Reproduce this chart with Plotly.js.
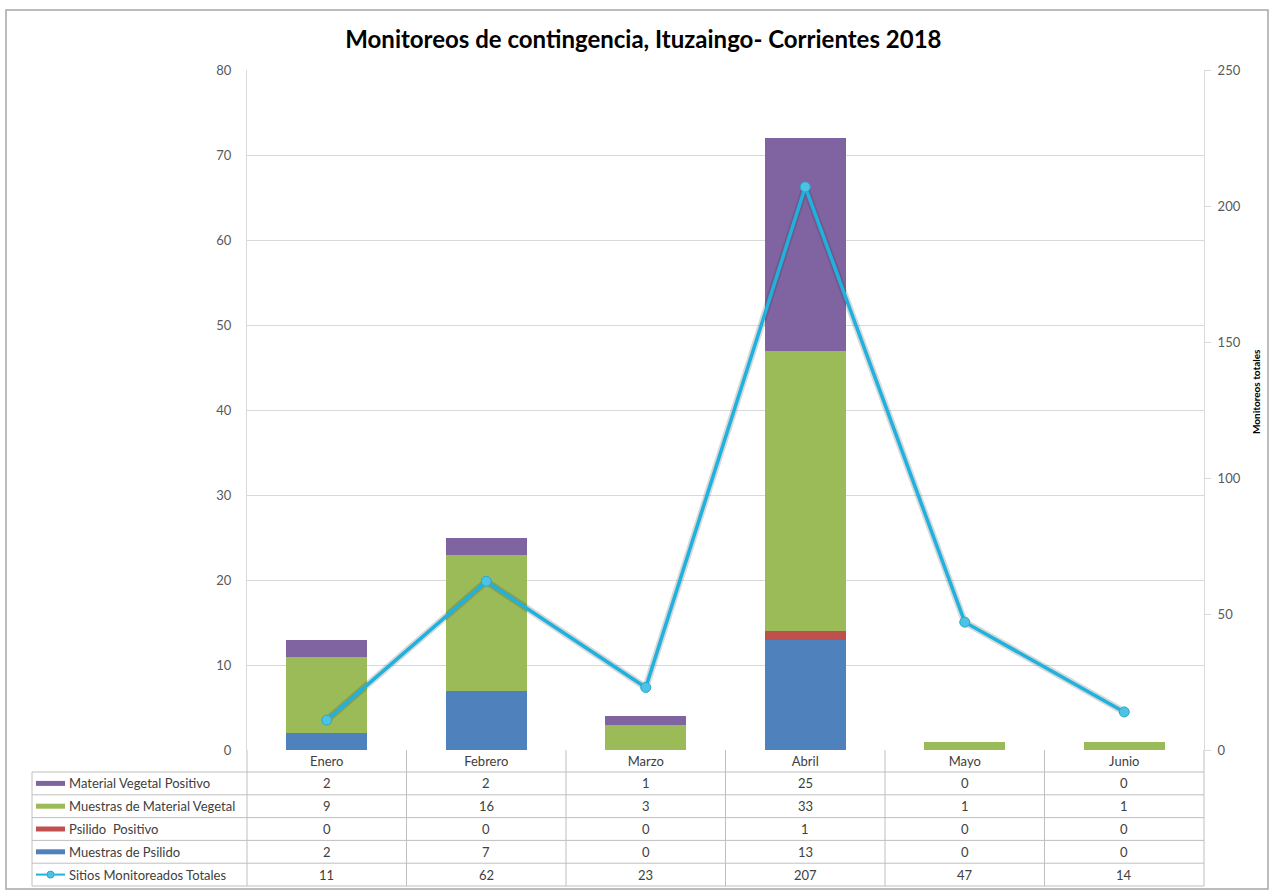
<!DOCTYPE html>
<html>
<head>
<meta charset="utf-8">
<script src="https://cdn.plot.ly/plotly-3.0.1.min.js"></script>
<style>html,body{margin:0;padding:0;background:#fff;}#chart{width:1269px;height:890px;}</style>
</head>
<body>
<div id="chart"></div>
<script>
// ---- data ----
const months = ["Enero", "Febrero", "Marzo", "Abril", "Mayo", "Junio"];
const materialVegetalPositivo = [2, 2, 1, 25, 0, 0];
const muestrasMaterialVegetal = [9, 16, 3, 33, 1, 1];
const psilidoPositivo = [0, 0, 0, 1, 0, 0];
const muestrasPsilido = [2, 7, 0, 13, 0, 0];
const sitiosMonitoreados = [11, 62, 23, 207, 47, 14];
const leftTicks = [0, 10, 20, 30, 40, 50, 60, 70, 80];
const rightTicks = [0, 50, 100, 150, 200, 250];

// ---- layout geometry (pixels) ----
const W = 1269, H = 890;
const PL = 247, PR = 1204, PT = 70, PB = 750;
const pw = PR - PL, ph = PB - PT;
const px = x => (x - PL) / pw;
const py = y => (PB - y) / ph;

const C = {
  purple: "#8064A2", green: "#9BBB59", red: "#C0504D", blue: "#4F81BD",
  line: "#1FB2DF", marker: "#4CC3E3", grid: "#D9D9D9", text: "#404040"
};
const FONT = "Lato, 'Open Sans', sans-serif";

const traces = [
  {type: "bar", name: "Muestras de Psilido", x: months, y: muestrasPsilido, marker: {color: C.blue}},
  {type: "bar", name: "Psilido  Positivo", x: months, y: psilidoPositivo, marker: {color: C.red}},
  {type: "bar", name: "Muestras de Material Vegetal", x: months, y: muestrasMaterialVegetal, marker: {color: C.green}},
  {type: "bar", name: "Material Vegetal Positivo", x: months, y: materialVegetalPositivo, marker: {color: C.purple}},
  {type: "scatter", mode: "lines", name: "shadow", x: months, y: sitiosMonitoreados, yaxis: "y2",
   line: {color: "rgba(40,40,40,0.18)", width: 7}, hoverinfo: "skip"},
  {type: "scatter", mode: "lines+markers", name: "Sitios Monitoreados Totales", x: months, y: sitiosMonitoreados,
   yaxis: "y2", line: {color: C.line, width: 3.5}, marker: {color: C.marker, size: 10, line: {color: "#2AA6CC", width: 1}}}
];

// ---- table (rows in display order) ----
const rows = [
  {label: "Material Vegetal Positivo", values: materialVegetalPositivo, color: C.purple, kind: "bar"},
  {label: "Muestras de Material Vegetal", values: muestrasMaterialVegetal, color: C.green, kind: "bar"},
  {label: "Psilido  Positivo", values: psilidoPositivo, color: C.red, kind: "bar"},
  {label: "Muestras de Psilido", values: muestrasPsilido, color: C.blue, kind: "bar"},
  {label: "Sitios Monitoreados Totales", values: sitiosMonitoreados, color: C.line, kind: "line"}
];
const rowTop = 772, rowH = 22.8, tableLeft = 32, headerTop = 750;
const tableBottom = rowTop + rows.length * rowH;

const shapes = [];
const annotations = [];
const lineStyle = {color: "#BFBFBF", width: 1};

// outer frame
shapes.push({type: "rect", xref: "paper", yref: "paper", x0: px(6), x1: px(1268), y0: py(10), y1: py(889),
  line: {color: "#A6A6A6", width: 1.5}, fillcolor: "rgba(0,0,0,0)", layer: "below"});

// horizontal lines of the table
for (let i = 0; i <= rows.length; i++) {
  const y = rowTop + i * rowH;
  shapes.push({type: "line", xref: "paper", yref: "paper", x0: px(tableLeft), x1: px(PR), y0: py(y), y1: py(y), line: lineStyle});
}
// vertical lines
shapes.push({type: "line", xref: "paper", yref: "paper", x0: px(tableLeft), x1: px(tableLeft), y0: py(rowTop), y1: py(tableBottom), line: lineStyle});
for (let i = 0; i <= months.length; i++) {
  const x = PL + i * pw / months.length;
  shapes.push({type: "line", xref: "paper", yref: "paper", x0: px(x), x1: px(x), y0: py(headerTop), y1: py(tableBottom), line: lineStyle});
}

rows.forEach((r, i) => {
  const yc = rowTop + i * rowH + rowH / 2;
  if (r.kind === "bar") {
    shapes.push({type: "rect", xref: "paper", yref: "paper", x0: px(36), x1: px(65), y0: py(yc - 2.5), y1: py(yc + 2.5),
      fillcolor: r.color, line: {width: 0}});
  } else {
    shapes.push({type: "line", xref: "paper", yref: "paper", x0: px(36), x1: px(65), y0: py(yc), y1: py(yc),
      line: {color: r.color, width: 2}});
    shapes.push({type: "circle", xref: "paper", yref: "paper", x0: px(47), x1: px(54), y0: py(yc - 3.5), y1: py(yc + 3.5),
      fillcolor: C.marker, line: {color: "#2AA6CC", width: 1}});
  }
  annotations.push({xref: "paper", yref: "paper", x: px(67), y: py(yc), xanchor: "left", yanchor: "middle",
    text: r.label, showarrow: false, font: {family: FONT, size: 13, color: C.text}});
  r.values.forEach((v, j) => {
    annotations.push({xref: "x", yref: "paper", x: months[j], y: py(yc), xanchor: "center", yanchor: "middle",
      text: String(v), showarrow: false, font: {family: FONT, size: 13, color: C.text}});
  });
});

// right axis title
annotations.push({xref: "paper", yref: "paper", x: px(1256), y: py(392), xanchor: "center", yanchor: "middle",
  text: "<b>Monitoreos totales</b>", textangle: -90, showarrow: false, font: {family: FONT, size: 10, color: "#000"}});

const layout = {
  width: W, height: H,
  margin: {l: PL, r: W - PR, t: PT, b: H - PB},
  paper_bgcolor: "#fff", plot_bgcolor: "#fff",
  title: {text: "<b>Monitoreos de contingencia, Ituzaingo- Corrientes 2018</b>", x: 0.507, xanchor: "center",
    y: 1 - 40 / H, yanchor: "middle", font: {family: FONT, size: 24, color: "#000"}},
  showlegend: false,
  barmode: "stack", bargap: 0.49,
  font: {family: FONT, color: "#595959"},
  xaxis: {type: "category", categoryorder: "array", categoryarray: months, showgrid: false, zeroline: false,
    showline: false, ticks: "", tickfont: {family: FONT, size: 13, color: C.text}, ticklabelstandoff: 2, fixedrange: true},
  yaxis: {range: [0, 80], tickvals: leftTicks, showgrid: true, gridcolor: C.grid, gridwidth: 1, zeroline: false,
    showline: true, linecolor: C.grid, linewidth: 1, ticks: "", tickfont: {family: FONT, size: 13, color: "#595959"},
    ticklabelstandoff: 12, fixedrange: true},
  yaxis2: {overlaying: "y", side: "right", range: [0, 250], tickvals: rightTicks, showgrid: false, zeroline: false,
    showline: true, linecolor: C.grid, linewidth: 1, ticks: "outside", ticklen: 6, tickcolor: C.grid,
    tickfont: {family: FONT, size: 13, color: "#595959"}, ticklabelstandoff: 4, fixedrange: true},
  shapes: shapes,
  annotations: annotations
};

Plotly.newPlot("chart", traces, layout, {displayModeBar: false, staticPlot: true});
</script>
</body>
</html>
